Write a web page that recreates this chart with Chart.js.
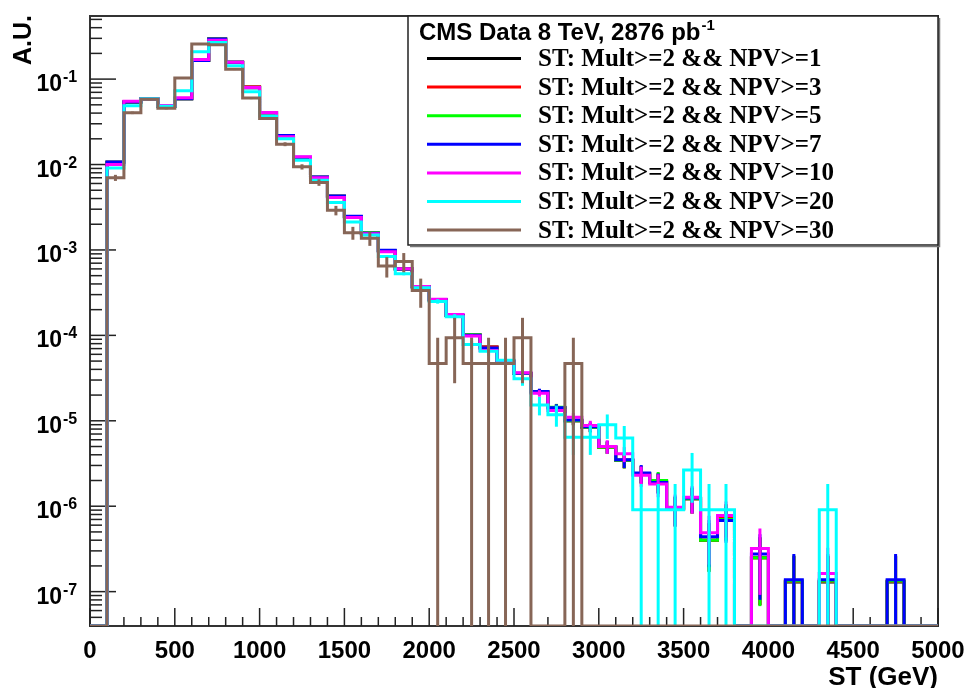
<!DOCTYPE html>
<html>
<head>
<meta charset="utf-8">
<script src="https://cdn.jsdelivr.net/npm/chart.js@4.4.1/dist/chart.umd.min.js"></script>
<style>
  html, body { margin: 0; padding: 0; background: #fff; }
  #wrap { width: 971px; height: 688px; }
</style>
</head>
<body>
<div id="wrap"><canvas id="chartST" width="971" height="688"></canvas></div>
<script>
// bin edges in GeV (50 bins of 100 GeV)
const binEdges = [
  0, 100, 200, 300, 400, 500, 600, 700, 800, 900,
  1000, 1100, 1200, 1300, 1400, 1500, 1600, 1700, 1800, 1900,
  2000, 2100, 2200, 2300, 2400, 2500, 2600, 2700, 2800, 2900,
  3000, 3100, 3200, 3300, 3400, 3500, 3600, 3700, 3800, 3900,
  4000, 4100, 4200, 4300, 4400, 4500, 4600, 4700, 4800, 4900, 5000
];

const seriesLabels = [
  "ST: Mult>=2 && NPV>=1",
  "ST: Mult>=2 && NPV>=3",
  "ST: Mult>=2 && NPV>=5",
  "ST: Mult>=2 && NPV>=7",
  "ST: Mult>=2 && NPV>=10",
  "ST: Mult>=2 && NPV>=20",
  "ST: Mult>=2 && NPV>=30"
];

const npv1 = [
  0, 0.0106, 0.0538, 0.0586, 0.0479, 0.0590, 0.165, 0.294, 0.157, 0.0808,
  0.0404, 0.0218, 0.0121, 0.00712, 0.00424, 0.00246, 0.00158, 0.00098, 0.000598, 0.00037,
  0.00026, 0.000171, 0.000101, 7.3e-5, 4.95e-5, 3.58e-5, 2.18e-5, 1.42e-5, 1.0e-5, 8.4e-6,
  4.9e-6, 3.45e-6, 2.4e-6, 1.92e-6, 9.3e-7, 1.22e-6, 4.0e-7, 7.4e-7, 0, 2.5e-7,
  0, 1.30e-7, 0, 1.30e-7, 0, 0, 0, 1.30e-7, 0, 0
];
const npv3 = [
  0, 0.0106, 0.0538, 0.0586, 0.0479, 0.0590, 0.165, 0.294, 0.157, 0.0808,
  0.0404, 0.0218, 0.0121, 0.00712, 0.00424, 0.00246, 0.00158, 0.00098, 0.000598, 0.00037,
  0.00026, 0.000171, 0.000101, 7.3e-5, 4.95e-5, 3.58e-5, 2.18e-5, 1.42e-5, 1.0e-5, 8.4e-6,
  4.9e-6, 3.45e-6, 2.4e-6, 1.93e-6, 9.3e-7, 1.22e-6, 4.0e-7, 7.4e-7, 0, 2.5e-7,
  0, 1.31e-7, 0, 1.31e-7, 0, 0, 0, 1.31e-7, 0, 0
];
const npv5 = [
  0, 0.0106, 0.0538, 0.0586, 0.0479, 0.0590, 0.165, 0.294, 0.157, 0.0790,
  0.0404, 0.0218, 0.0121, 0.00712, 0.00424, 0.00246, 0.00159, 0.00098, 0.000598, 0.00037,
  0.00026, 0.000171, 0.000102, 7.0e-5, 4.95e-5, 3.58e-5, 2.18e-5, 1.44e-5, 1.0e-5, 8.4e-6,
  4.9e-6, 3.45e-6, 2.4e-6, 2.0e-6, 9.3e-7, 1.22e-6, 4.0e-7, 7.0e-7, 0, 2.5e-7,
  0, 1.33e-7, 0, 1.33e-7, 0, 0, 0, 1.33e-7, 0, 0
];
const npv7 = [
  0, 0.0107, 0.0540, 0.0587, 0.0480, 0.0590, 0.165, 0.295, 0.157, 0.0790,
  0.0405, 0.0219, 0.0122, 0.00716, 0.00427, 0.00248, 0.00157, 0.00099, 0.000600, 0.000372,
  0.000262, 0.000172, 0.000100, 7.1e-5, 5.0e-5, 3.6e-5, 2.2e-5, 1.42e-5, 1.02e-5, 8.5e-6,
  5.0e-6, 3.5e-6, 2.45e-6, 1.9e-6, 9.5e-7, 1.25e-6, 4.4e-7, 6.8e-7, 0, 2.75e-7,
  0, 1.38e-7, 0, 1.38e-7, 0, 0, 0, 1.38e-7, 0, 0
];
const npv10 = [
  0, 0.0100, 0.0550, 0.0585, 0.0490, 0.0605, 0.170, 0.285, 0.158, 0.0800,
  0.0407, 0.0212, 0.0123, 0.0070, 0.0041, 0.0024, 0.00155, 0.00095, 0.000602, 0.000374,
  0.000264, 0.000175, 9.8e-5, 6.65e-5, 5.0e-5, 3.65e-5, 2.1e-5, 1.32e-5, 1.1e-5, 8.8e-6,
  5.0e-6, 4.1e-6, 2.3e-6, 1.82e-6, 9.7e-7, 1.27e-6, 4.9e-7, 7.8e-7, 0, 3.2e-7,
  0, 0, 0, 1.63e-7, 0, 0, 0, 0, 0, 0
];
const npv20 = [
  0, 0.0091, 0.0487, 0.0587, 0.0480, 0.0730, 0.209, 0.269, 0.143, 0.0710,
  0.0368, 0.0201, 0.0112, 0.00654, 0.00359, 0.00212, 0.00150, 0.00084, 0.000527, 0.00036,
  0.00025, 0.000165, 7.8e-5, 6.5e-5, 5.1e-5, 3.1e-5, 1.53e-5, 1.18e-5, 6.4e-6, 6.4e-6,
  9.0e-6, 6.3e-6, 9.1e-7, 9.1e-7, 9.1e-7, 2.65e-6, 9.1e-7, 9.1e-7, 0, 0,
  0, 0, 0, 9.1e-7, 0, 0, 0, 0, 0, 0
];
const npv30 = [
  0, 0.0070, 0.0403, 0.0580, 0.0457, 0.103, 0.257, 0.252, 0.130, 0.0600,
  0.0346, 0.0173, 0.0094, 0.00617, 0.00291, 0.00159, 0.00137, 0.00065, 0.000734, 0.000336,
  4.7e-5, 9.4e-5, 4.7e-5, 4.7e-5, 4.7e-5, 9.4e-5, 0, 0, 4.7e-5, 0,
  0, 0, 0, 0, 0, 0, 0, 0, 0, 0,
  0, 0, 0, 0, 0, 0, 0, 0, 0, 0
];

// weight of a single event in each normalised histogram (lowest filled level)
const eventWeight = [1.30e-7, 1.31e-7, 1.33e-7, 1.38e-7, 1.63e-7, 9.1e-7, 4.7e-5];

const xTickLabels = [0, 500, 1000, 1500, 2000, 2500, 3000, 3500, 4000, 4500, 5000];
const yTickValues = [1e-7, 1e-6, 1e-5, 1e-4, 1e-3, 1e-2, 1e-1];
const yTickExponents = ["-7", "-6", "-5", "-4", "-3", "-2", "-1"];

const COLORS = ["#000000", "#ff0000", "#00ff00", "#0000ff", "#ff00ff", "#00ffff", "#876657"];
const Y_MIN = 3.96e-8;
const Y_MAX = 0.548;
const SANS = "'Liberation Sans', Arial, Helvetica, sans-serif";
const SERIF = "'Liberation Serif', 'Times New Roman', serif";

// step outline: left edge of each bin, plus the last right edge
function histPoints(values) {
  const pts = values.map((v, i) => ({ x: binEdges[i], y: v > 0 ? v : Y_MIN }));
  pts.push({ x: binEdges[binEdges.length - 1], y: pts[pts.length - 1].y });
  return pts;
}

const allSeries = [npv1, npv3, npv5, npv7, npv10, npv20, npv30];

const errorBarPlugin = {
  id: "errorBars",
  afterDatasetDraw(chart, args) {
    const i = args.index;
    const values = allSeries[i];
    const w = eventWeight[i];
    const { ctx, chartArea: a, scales: { x, y } } = chart;
    ctx.save();
    ctx.beginPath();
    ctx.rect(a.left, a.top, a.right - a.left, a.bottom - a.top);
    ctx.clip();
    ctx.strokeStyle = COLORS[i];
    ctx.lineWidth = 3;
    values.forEach((v, b) => {
      if (!v) return;
      const err = Math.sqrt(v * w);
      const px = x.getPixelForValue((binEdges[b] + binEdges[b + 1]) / 2);
      const top = y.getPixelForValue(v + err);
      const bot = v - err > Y_MIN ? y.getPixelForValue(v - err) : a.bottom;
      ctx.beginPath();
      ctx.moveTo(px, top);
      ctx.lineTo(px, bot);
      ctx.stroke();
    });
    ctx.restore();
  }
};

const rootAxesPlugin = {
  id: "rootAxes",
  beforeDatasetsDraw(chart) {
    const { ctx, chartArea: a, scales: { x, y } } = chart;
    ctx.save();
    ctx.strokeStyle = "#333";
    ctx.lineWidth = 2;
    ctx.strokeRect(a.left, a.top, a.right - a.left, a.bottom - a.top);

    ctx.lineWidth = 1.5;
    ctx.strokeStyle = "#222";
    binEdges.forEach((v) => {
      const px = x.getPixelForValue(v);
      const len = v % 500 === 0 ? 18 : 9;
      ctx.beginPath();
      ctx.moveTo(px, a.bottom);
      ctx.lineTo(px, a.bottom - len);
      ctx.stroke();
    });
    for (let d = -8; d <= 0; d++) {
      for (let m = 1; m <= 9; m++) {
        const v = m * Math.pow(10, d);
        if (v < Y_MIN || v > Y_MAX) continue;
        const py = y.getPixelForValue(v);
        ctx.beginPath();
        ctx.moveTo(a.left, py);
        ctx.lineTo(a.left + (m === 1 ? 26 : 12), py);
        ctx.stroke();
      }
    }
    ctx.restore();
  },
  afterDatasetsDraw(chart) {
    const { ctx, chartArea: a, scales: { x, y } } = chart;
    ctx.save();
    ctx.fillStyle = "#000";

    ctx.font = "bold 24px " + SANS;
    ctx.textAlign = "center";
    ctx.textBaseline = "alphabetic";
    xTickLabels.forEach((v) => ctx.fillText(String(v), x.getPixelForValue(v), 658));

    yTickValues.forEach((v, i) => {
      const py = y.getPixelForValue(v);
      ctx.font = "bold 23px " + SANS;
      ctx.textAlign = "right";
      ctx.fillText("10", 62, py + 12);
      ctx.font = "bold 16px " + SANS;
      ctx.textAlign = "left";
      ctx.fillText(yTickExponents[i], 63, py + 3);
    });

    ctx.font = "bold 26px " + SANS;
    ctx.textAlign = "right";
    ctx.fillText("ST (GeV)", a.right, 685);

    ctx.save();
    ctx.translate(31, 15);
    ctx.rotate(-Math.PI / 2);
    ctx.font = "bold 25px " + SANS;
    ctx.textAlign = "right";
    ctx.fillText("A.U.", 0, 0);
    ctx.restore();

    // legend box
    const bx = 408, by = 16, bw = 530, bh = 229;
    ctx.fillStyle = "#fff";
    ctx.fillRect(bx, by, bw, bh);
    ctx.strokeStyle = "#222";
    ctx.lineWidth = 1.5;
    ctx.strokeRect(bx, by, bw, bh);
    ctx.strokeStyle = "#777";
    ctx.beginPath();
    ctx.moveTo(bx + 2, by + bh + 1.5);
    ctx.lineTo(bx + bw + 1.5, by + bh + 1.5);
    ctx.lineTo(bx + bw + 1.5, by + 2);
    ctx.stroke();

    ctx.fillStyle = "#000";
    ctx.textAlign = "left";
    ctx.font = "bold 24px " + SANS;
    const title = "CMS Data 8 TeV, 2876 pb";
    ctx.fillText(title, 419, 40);
    const tw = ctx.measureText(title).width;
    ctx.font = "bold 15px " + SANS;
    ctx.fillText("-1", 419 + tw + 1, 30);

    chart.data.datasets.forEach((ds, i) => {
      const cy = 58.5 + i * 28.6;
      ctx.strokeStyle = ds.borderColor;
      ctx.lineWidth = 3;
      ctx.beginPath();
      ctx.moveTo(427, cy);
      ctx.lineTo(521, cy);
      ctx.stroke();
      ctx.fillStyle = "#000";
      ctx.font = "bold 25px " + SERIF;
      ctx.textBaseline = "middle";
      ctx.fillText(ds.label, 538, cy + 1);
      ctx.textBaseline = "alphabetic";
    });
    ctx.restore();
  }
};

new Chart(document.getElementById("chartST"), {
  type: "line",
  data: {
    datasets: allSeries.map((values, i) => ({
      label: seriesLabels[i],
      data: histPoints(values),
      borderColor: COLORS[i],
      borderWidth: 3,
      stepped: true,
      pointRadius: 0,
      fill: false,
      tension: 0,
      order: allSeries.length - 1 - i
    }))
  },
  options: {
    responsive: false,
    animation: false,
    layout: { padding: { left: 90, right: 33, top: 16, bottom: 62 } },
    plugins: {
      legend: { display: false },
      tooltip: { enabled: false }
    },
    scales: {
      x: { type: "linear", min: 0, max: 5000, display: false },
      y: { type: "logarithmic", min: Y_MIN, max: Y_MAX, display: false }
    }
  },
  plugins: [rootAxesPlugin, errorBarPlugin]
});
</script>
</body>
</html>
